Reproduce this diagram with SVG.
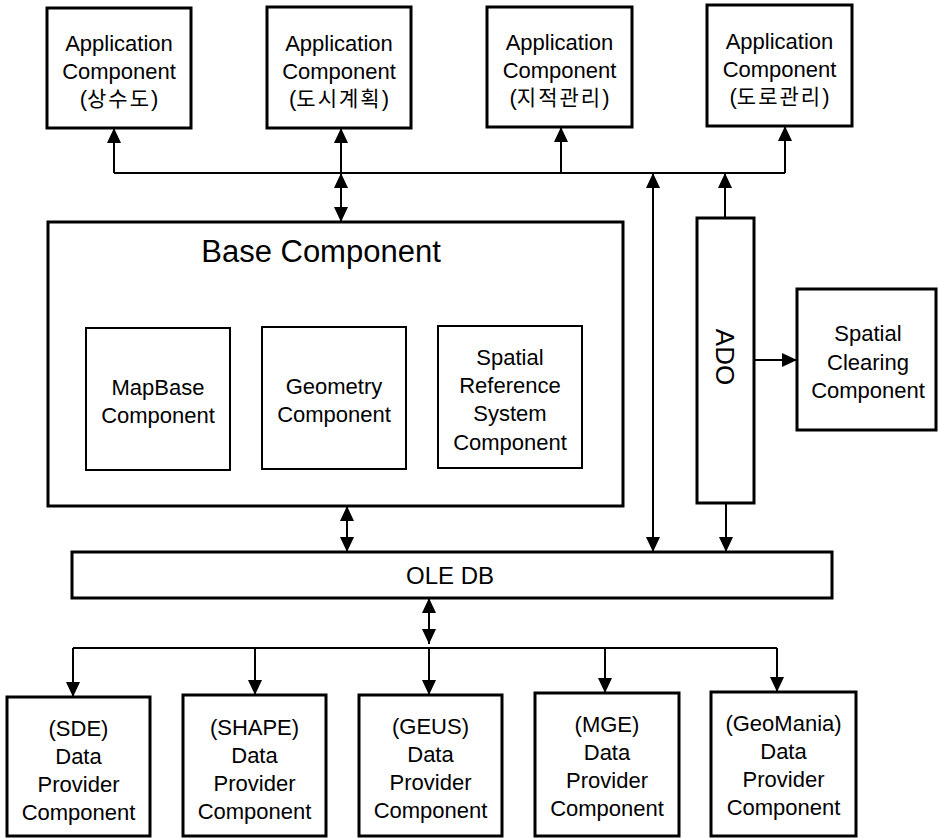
<svg xmlns="http://www.w3.org/2000/svg" width="938" height="838" viewBox="0 0 938 838">
<defs>
<marker id="ah" viewBox="0 0 15 14" refX="15" refY="7" markerWidth="15" markerHeight="14" markerUnits="userSpaceOnUse" orient="auto-start-reverse">
<path d="M0,0 L15,7 L0,14 z" fill="#000"/>
</marker>
<style>
.box{fill:#fff;stroke:#000;stroke-width:3}
.inner{fill:#fff;stroke:#000;stroke-width:2}
.t{font-family:"Liberation Sans","Noto Sans CJK KR",Arial,sans-serif;font-size:22px;fill:#000;text-anchor:middle}
.k{font-family:"Noto Sans CJK KR","Liberation Sans",sans-serif;font-size:21px;letter-spacing:2px}
.c{fill:none;stroke:#000;stroke-width:2}
.a{marker-end:url(#ah)}
.d{marker-start:url(#ah);marker-end:url(#ah)}
</style>
</defs>
<rect width="938" height="838" fill="#fff"/>
<g id="connectors">
<path class="c" d="M114,173 H785"/>
<path class="c a" d="M114,173 V128"/>
<path class="c a" d="M341,173 V128"/>
<path class="c a" d="M561,173 V127"/>
<path class="c a" d="M785,173 V126"/>
<path class="c d" d="M341,173 V222"/>
<path class="c d" d="M653,173 V552"/>
<path class="c a" d="M725,218 V173"/>
<path class="c a" d="M726,503 V552"/>
<path class="c a" d="M754,360 H797"/>
<path class="c d" d="M347,506 V552"/>
<path class="c d" d="M429,598 V644"/>
<path class="c" d="M73,648 H777"/>
<path class="c a" d="M73,648 V697"/>
<path class="c a" d="M255,648 V695"/>
<path class="c a" d="M429,648 V695"/>
<path class="c a" d="M605,648 V693"/>
<path class="c a" d="M777,648 V692"/>
</g>
<g id="app1">
<rect class="box" x="47" y="8" width="144" height="120"/>
<text class="t" x="119" y="51">Application</text>
<text class="t" x="119" y="79">Component</text>
<text class="t" x="119" y="106">(<tspan class="k">상수도</tspan>)</text>
</g>
<g id="app2">
<rect class="box" x="267" y="7" width="144" height="121"/>
<text class="t" x="339" y="51">Application</text>
<text class="t" x="339" y="79">Component</text>
<text class="t" x="339" y="106">(<tspan class="k">도시계획</tspan>)</text>
</g>
<g id="app3">
<rect class="box" x="487" y="7" width="145" height="120"/>
<text class="t" x="559.5" y="50">Application</text>
<text class="t" x="559.5" y="78">Component</text>
<text class="t" x="559.5" y="105">(<tspan class="k">지적관리</tspan>)</text>
</g>
<g id="app4">
<rect class="box" x="707" y="5" width="145" height="121"/>
<text class="t" x="779.5" y="49">Application</text>
<text class="t" x="779.5" y="77">Component</text>
<text class="t" x="779.5" y="104">(<tspan class="k">도로관리</tspan>)</text>
</g>
<g id="base">
<rect class="box" x="48" y="222" width="575" height="284"/>
<text class="t" x="321" y="262" style="font-size:31px">Base Component</text>
</g>
<g id="mapbase">
<rect class="inner" x="86" y="328" width="144" height="142"/>
<text class="t" x="158" y="395">MapBase</text>
<text class="t" x="158" y="423">Component</text>
</g>
<g id="geometry">
<rect class="inner" x="262" y="327" width="144" height="142"/>
<text class="t" x="334" y="394">Geometry</text>
<text class="t" x="334" y="422">Component</text>
</g>
<g id="srs">
<rect class="inner" x="438" y="326" width="144" height="142"/>
<text class="t" x="510" y="365">Spatial</text>
<text class="t" x="510" y="393">Reference</text>
<text class="t" x="510" y="421">System</text>
<text class="t" x="510" y="450">Component</text>
</g>
<g id="ado">
<rect class="box" x="697" y="218" width="57" height="285"/>
<text class="t" transform="translate(725,357) rotate(90)" x="0" y="9" style="font-size:26px">ADO</text>
</g>
<g id="clearing">
<rect class="box" x="797" y="289" width="139" height="141"/>
<text class="t" x="868" y="341">Spatial</text>
<text class="t" x="868" y="370">Clearing</text>
<text class="t" x="868" y="398">Component</text>
</g>
<g id="oledb">
<rect class="box" x="72" y="552" width="760" height="46"/>
<text class="t" x="450" y="584" style="font-size:24px">OLE DB</text>
</g>
<g id="sde">
<rect class="box" x="7" y="697" width="143" height="139"/>
<text class="t" x="78.5" y="736">(SDE)</text>
<text class="t" x="78.5" y="764">Data</text>
<text class="t" x="78.5" y="792">Provider</text>
<text class="t" x="78.5" y="820">Component</text>
</g>
<g id="shape">
<rect class="box" x="183" y="695" width="143" height="141"/>
<text class="t" x="254.5" y="735">(SHAPE)</text>
<text class="t" x="254.5" y="763">Data</text>
<text class="t" x="254.5" y="791">Provider</text>
<text class="t" x="254.5" y="819">Component</text>
</g>
<g id="geus">
<rect class="box" x="359" y="695" width="143" height="141"/>
<text class="t" x="430.5" y="734">(GEUS)</text>
<text class="t" x="430.5" y="762">Data</text>
<text class="t" x="430.5" y="790">Provider</text>
<text class="t" x="430.5" y="818">Component</text>
</g>
<g id="mge">
<rect class="box" x="535" y="693" width="144" height="143"/>
<text class="t" x="607" y="732">(MGE)</text>
<text class="t" x="607" y="760">Data</text>
<text class="t" x="607" y="788">Provider</text>
<text class="t" x="607" y="816">Component</text>
</g>
<g id="geomania">
<rect class="box" x="711" y="692" width="145" height="144"/>
<text class="t" x="783.5" y="731">(GeoMania)</text>
<text class="t" x="783.5" y="759">Data</text>
<text class="t" x="783.5" y="787">Provider</text>
<text class="t" x="783.5" y="815">Component</text>
</g>
</svg>
